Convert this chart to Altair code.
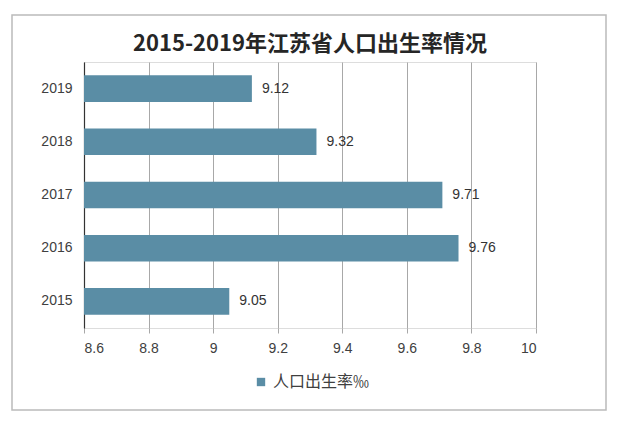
import altair as alt
import pandas as pd

years = ["2015", "2016", "2017", "2018", "2019"]
rates = [9.05, 9.76, 9.71, 9.32, 9.12]
series_name = "人口出生率‰"
title_text = "2015-2019年江苏省人口出生率情况"
x_ticks = [8.6, 8.8, 9.0, 9.2, 9.4, 9.6, 9.8, 10.0]
x_min = 8.6

df = pd.DataFrame({"year": years, "rate": rates, "series": [series_name] * len(years)})
df["label"] = df["rate"].map(lambda v: f"{v:g}")
df["base"] = x_min

bar_color = "#5A8DA5"
font = "Liberation Sans"
cjk = "Noto Sans CJK SC"

y_enc = alt.Y(
    "year:N",
    sort="descending",
    scale=alt.Scale(paddingInner=0.5, paddingOuter=0.25),
    axis=alt.Axis(
        title=None, ticks=False, labelPadding=12, labelFont=font, labelFontSize=14,
        labelColor="#404040", domainColor="#333333", domainWidth=1.2, grid=False,
    ),
)
x_enc = alt.X(
    "rate:Q",
    scale=alt.Scale(domain=[8.6, 10.0], nice=False, zero=False),
    axis=alt.Axis(
        title=None, values=x_ticks, format="~g", grid=True, gridColor="#A8A8A8",
        domain=False, tickSize=5, tickColor="#A8A8A8", labelPadding=8,
        labelFont=font, labelFontSize=14, labelColor="#404040",
    ),
)

bars = alt.Chart(df).mark_bar(color=bar_color).encode(
    x=x_enc,
    x2="base:Q",
    y=y_enc,
    color=alt.Color(
        "series:N",
        scale=alt.Scale(range=[bar_color]),
        legend=alt.Legend(
            title=None, orient="none", legendX=169, legendY=312, symbolType="square",
            symbolSize=70, labelFont=cjk, labelFontSize=16, labelColor="#404040",
            symbolStrokeWidth=0,
        ),
    ),
)

labels = alt.Chart(df).mark_text(
    align="left", dx=10, font=font, fontSize=14, color="#333333"
).encode(x="rate:Q", y=alt.Y("year:N", sort="descending"), text="label:N")

frame = alt.Chart(pd.DataFrame({"k": [0]})).mark_rect(
    fill=None, stroke="#BBBBBB", strokeWidth=1.5, clip=False
).encode(
    x=alt.value(-72), x2=alt.value(522), y=alt.value(-47), y2=alt.value(348)
)

chart = alt.layer(frame, bars, labels).properties(
    width=452,
    height=266,
    title=alt.TitleParams(
        title_text, font=cjk, fontSize=22, fontWeight="bold", color="#262626",
        anchor="middle", offset=10, dy=52,
    ),
    autosize=alt.AutoSizeParams(type="none"),
    padding={"left": 76, "top": 54, "right": 96, "bottom": 85},
).configure_view(stroke=None).configure(background="white")

chart.save("out.html", embed_options={"renderer": "svg", "actions": False})
